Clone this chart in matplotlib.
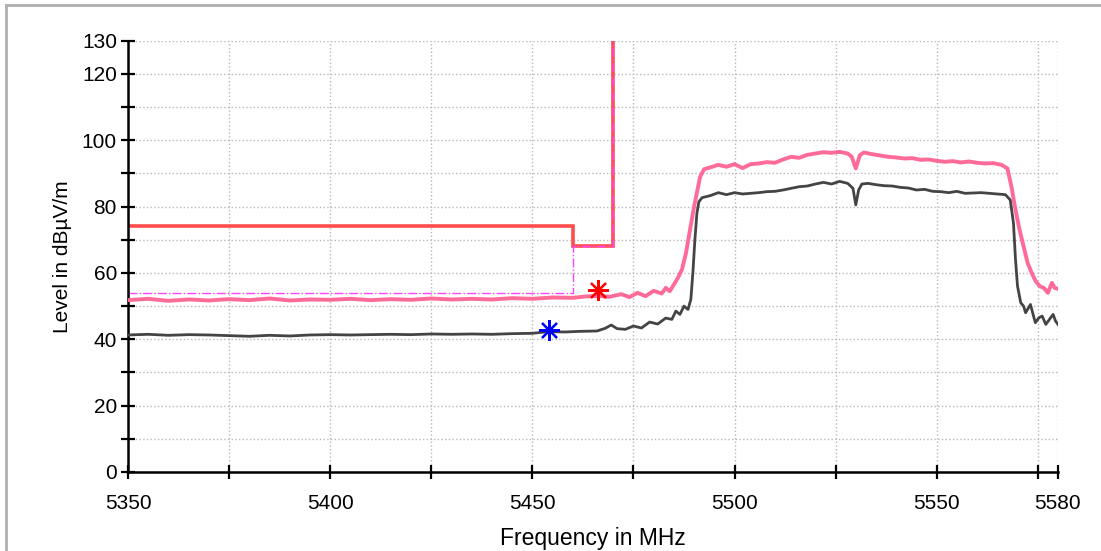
import matplotlib
matplotlib.use("Agg")
import matplotlib.pyplot as plt
from matplotlib.lines import Line2D

# peak trace (pink)
peak_freq = [5350, 5355, 5360, 5365, 5370, 5375, 5380, 5385, 5390, 5395,
             5400, 5405, 5410, 5415, 5420, 5425, 5430, 5435, 5440, 5445,
             5450, 5455, 5460, 5463, 5466, 5469, 5472, 5474, 5476, 5478,
             5480, 5482, 5483, 5484, 5485, 5486, 5487, 5488, 5489, 5490,
             5491, 5491.5, 5492.5, 5494, 5496, 5498, 5500, 5502, 5504, 5506,
             5508, 5510, 5512, 5514, 5516, 5518, 5520, 5522, 5524, 5526,
             5528, 5529, 5530, 5531, 5532, 5534, 5536, 5538, 5540, 5542,
             5544, 5546, 5548, 5550, 5552, 5554, 5556, 5558, 5560, 5562,
             5564, 5566, 5567.5, 5568.5, 5569.5, 5570.5, 5571.5, 5572.5, 5573.5, 5574.5,
             5575.5, 5576.5, 5577.5, 5578.5, 5579.2, 5580]
peak_level = [51.8, 52.2, 51.6, 52.0, 51.7, 52.1, 51.8, 52.3, 51.7, 52.0,
              51.9, 52.2, 51.8, 52.1, 51.9, 52.3, 52.0, 52.2, 52.0, 52.4,
              52.2, 52.6, 52.5, 52.9, 53.1, 52.8, 53.6, 52.7, 54.0, 53.0,
              54.6, 53.8, 55.5, 54.5, 56.5, 58.5, 61.0, 66.0, 73.0, 80.0,
              86.0, 89.0, 91.3, 91.8, 92.6, 92.0, 92.8, 91.6, 92.8, 93.0,
              93.4, 93.2, 94.2, 95.0, 94.7, 95.6, 96.0, 96.4, 96.2, 96.5,
              96.0, 95.0, 91.5, 95.5, 96.3, 95.8, 95.4, 95.0, 94.8, 94.5,
              94.6, 94.1, 94.2, 93.8, 93.5, 93.7, 93.3, 93.6, 93.2, 93.0,
              93.1, 92.6, 91.5, 86.0, 79.0, 73.0, 68.0, 63.0, 60.0, 57.5,
              56.0, 55.5, 54.0, 57.0, 55.5, 55.2]

# average trace (dark grey)
avg_freq = [5350, 5355, 5360, 5365, 5370, 5375, 5380, 5385, 5390, 5395,
            5400, 5405, 5410, 5415, 5420, 5425, 5430, 5435, 5440, 5445,
            5450, 5454, 5458, 5462, 5466, 5468, 5469.5, 5471, 5473, 5475,
            5477, 5479, 5481, 5483, 5484.5, 5485.5, 5486.5, 5487.5, 5488.5, 5489.2,
            5489.7, 5490.2, 5490.7, 5491.2, 5492, 5494, 5496, 5498, 5500, 5502,
            5504, 5506, 5508, 5510, 5512, 5514, 5516, 5518, 5520, 5522,
            5524, 5526, 5528, 5529.3, 5530, 5530.7, 5531.5, 5533, 5535, 5537,
            5539, 5541, 5543, 5545, 5547, 5549, 5551, 5553, 5555, 5557,
            5559, 5561, 5563, 5565, 5567, 5568.2, 5569, 5569.5, 5570, 5570.8,
            5571.5, 5572, 5573.2, 5574.4, 5575.3, 5576.1, 5577, 5577.6, 5578.8, 5579.4,
            5580]
avg_level = [41.3, 41.5, 41.2, 41.4, 41.3, 41.1, 40.9, 41.2, 41.0, 41.3,
             41.4, 41.3, 41.4, 41.5, 41.4, 41.6, 41.5, 41.6, 41.5, 41.7,
             41.8, 42.3, 42.2, 42.4, 42.5, 43.3, 44.3, 43.2, 43.0, 44.0,
             43.4, 45.2, 44.6, 46.4, 46.0, 48.5, 47.5, 50.0, 49.0, 52.0,
             60.0, 70.0, 78.0, 81.5, 82.7, 83.3, 84.2, 83.6, 84.2, 83.8,
             84.0, 84.2, 84.5, 84.6, 85.0, 85.5, 86.0, 86.2, 86.8, 87.3,
             86.8, 87.6, 87.0, 85.5, 80.5, 85.0, 86.8, 87.0, 86.6, 86.3,
             86.2, 85.8, 85.6, 85.0, 85.2, 84.6, 84.5, 84.2, 84.6, 84.0,
             84.1, 84.2, 84.0, 83.8, 83.6, 82.0, 75.0, 64.0, 56.0, 51.0,
             50.0, 48.0, 50.5, 45.0, 46.5, 47.0, 44.5, 45.5, 47.5, 45.5,
             44.5]

# limit lines
peak_limit_freq = [5350, 5460, 5460, 5470, 5470]
peak_limit_level = [74, 74, 68.2, 68.2, 130]
avg_limit_freq = [5350, 5460, 5460, 5470, 5470]
avg_limit_level = [54, 54, 68.2, 68.2, 130]

# markers
peak_marker = (5466.3, 54.9)
avg_marker = (5454.2, 42.9)

x_ticks = [5350, 5375, 5400, 5425, 5450, 5475, 5500, 5525, 5550, 5575, 5580]
x_labels = ["5350", "", "5400", "", "5450", "", "5500", "", "5550", "", "5580"]
y_ticks = list(range(0, 131, 10))
y_labels = ["0", "", "20", "", "40", "", "60", "", "80", "", "100", "", "120", "130"]

plt.rcParams["font.family"] = ["Liberation Sans", "DejaVu Sans"]

fig = plt.figure(figsize=(11.01, 5.51), dpi=100)
ax = fig.add_axes([0.1163, 0.1434, 0.8446, 0.7827])

ax.plot(avg_limit_freq, avg_limit_level, color="#ff44ff", lw=1.0,
        linestyle="-.", zorder=2)
ax.plot(peak_limit_freq, peak_limit_level, color="#ff4d4d", lw=2.6,
        solid_joinstyle="miter", zorder=1)
ax.plot(peak_freq, peak_level, color="#ff6b99", lw=2.8, zorder=3)
ax.plot(avg_freq, avg_level, color="#444444", lw=2.0, zorder=3)

ax.plot(*peak_marker, marker=(8, 2, 0), color="#ff0000", ms=15, mew=1.6, zorder=5)
ax.plot(*avg_marker, marker=(8, 2, 0), color="#0000ff", ms=15, mew=1.6, zorder=5)

ax.set_xlim(5350, 5580)
ax.set_ylim(0, 130)
ax.set_xticks(x_ticks)
ax.set_xticklabels(x_labels)
ax.set_yticks(y_ticks)
ax.set_yticklabels(y_labels)
ax.tick_params(direction="inout", length=10, width=1.6, labelsize=15)
ax.tick_params(axis="x", pad=11)
ax.tick_params(axis="y", pad=3)

ax.grid(True, color="#b8b8b8", linestyle=":", linewidth=1.0)
ax.set_axisbelow(True)
for side in ["top", "right"]:
    ax.spines[side].set_visible(False)
for side in ["left", "bottom"]:
    ax.spines[side].set_linewidth(1.8)

ax.set_xlabel("Frequency in MHz", fontsize=16.5, labelpad=10)
ax.set_ylabel("Level in dBµV/m", fontsize=15, labelpad=7)

# thin grey frame at the left/top edge of the picture
fig.add_artist(Line2D([6 / 1101, 6 / 1101], [0, 1 - 5 / 551],
                      transform=fig.transFigure, color="#b0b0b0", lw=2))
fig.add_artist(Line2D([6 / 1101, 1], [1 - 5 / 551, 1 - 5 / 551],
                      transform=fig.transFigure, color="#b0b0b0", lw=2))

fig.savefig("out.png", dpi=100)
